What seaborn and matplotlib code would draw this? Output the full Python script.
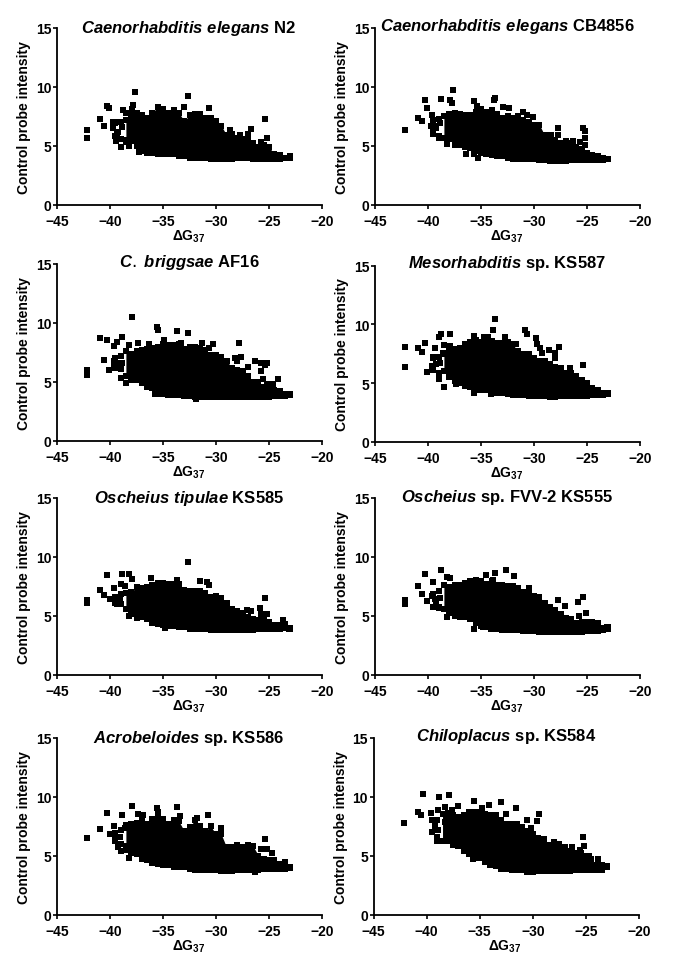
import matplotlib
matplotlib.use('Agg')
import matplotlib.pyplot as plt
import seaborn as sns

core_x = [-39.5, -39, -38.5, -38, -37.5, -37, -36.5, -36, -35.5, -35, -34.5, -34,
          -33.5, -33, -32.5, -32, -31.5, -31, -30.5, -30, -29.5, -29, -28.5, -28,
          -27.5, -27, -26.5, -26, -25.5, -25, -24.5, -24, -23.5, -23]

# Caenorhabditis elegans N2
n2_low = [5.8, 5.6, 5.5, 5.4, 5.0, 4.6, 4.5, 4.4, 4.3, 4.3, 4.3, 4.3, 4.1, 4.1, 4.0, 4.0, 4.0,
          3.95, 3.9, 3.9, 3.85, 3.85, 3.9, 3.95, 3.95, 3.95, 3.9, 3.9, 3.85, 3.9, 3.9, 3.9, 3.95, 4.0]
n2_high = [6.9, 7.0, 7.2, 7.6, 7.8, 7.6, 7.4, 7.8, 8.3, 8.1, 7.8, 8.0, 7.8, 7.1, 7.6, 7.7, 7.7,
           7.4, 7.4, 7.1, 6.7, 5.9, 6.0, 5.7, 5.6, 5.6, 5.2, 4.9, 5.1, 4.9, 4.3, 4.2, 4.0, 4.1]
n2_x = [-42.2, -42.2, -40.9, -40.6, -40.3, -40.1, -38.8, -38.5, -37.6, -37.8, -37.9, -32.6, -33,
        -30.65, -25.4, -25.2, -26.7, -28.7, -39.4, -39, -38.5, -38.2, -39.7, -39.4, -39.7, -37.3,
        -36.5, -27, -27.7, -25.8, -39.2, -38.9, -39.3]
n2_y = [6.3, 5.7, 7.25, 6.65, 8.4, 8.25, 8.0, 7.8, 9.55, 8.5, 8.1, 9.2, 8.3,
        8.2, 7.3, 5.7, 6.45, 6.3, 5.4, 4.9, 5.3, 5.0, 7.0, 7.05, 6.5, 4.5,
        4.35, 6.0, 5.9, 5.3, 6.2, 6.6, 6.0]

# Caenorhabditis elegans CB4856
cb_low = [6.0, 5.8, 5.7, 5.6, 5.1, 5.1, 4.9, 4.8, 4.6, 4.4, 4.3, 4.2, 4.1, 4.1, 4.0, 3.9, 3.9,
          3.9, 3.9, 3.9, 3.8, 3.8, 3.7, 3.7, 3.7, 3.7, 3.8, 3.8, 3.8, 3.8, 3.8, 3.8, 3.8, 3.85]
cb_high = [7.2, 7.3, 7.5, 7.7, 7.8, 7.7, 7.6, 7.6, 7.9, 8.1, 7.9, 8.0, 7.7, 7.4, 7.5, 7.4, 7.5,
           7.2, 7.0, 6.8, 6.8, 5.9, 5.5, 5.5, 5.2, 5.1, 5.2, 4.9, 4.7, 4.4, 4.2, 4.1, 4.0, 3.9]
cb_x = [-42.2, -40.9, -40.55, -40.3, -40.05, -38.8, -37.9, -37.75, -37.6, -38.25, -39, -36.4,
        -35.7, -35.25, -33.7, -33.8, -35.65, -35.4, -32.9, -32.35, -31, -30.65, -30.1, -27.75,
        -25.4, -25.15, -25.2, -25.15, -39.65, -39.75, -39.5, -27.7, -28.35, -26.95, -26.3, -25.7,
        -39.2, -38.9, -39.3]
cb_y = [6.35, 7.4, 7.1, 8.85, 8.25, 8.95, 8.85, 8.6, 9.75, 5.15, 5.65, 4.3,
        4.3, 4.0, 9.1, 8.85, 8.8, 8.4, 8.3, 8.25, 7.9, 7.65, 7.45, 6.55,
        6.5, 6.25, 5.7, 5.05, 7.65, 6.7, 6.15, 5.9, 5.9, 5.4, 5.4, 5.3,
        6.5, 6.9, 6.7]

# C. briggsae AF16
af_low = [6.2, 6.1, 5.5, 5.2, 5.2, 4.9, 4.6, 4.5, 4.0, 4.0, 3.9, 3.9, 3.9, 3.8, 3.8, 3.7, 3.75,
          3.75, 3.75, 3.75, 3.75, 3.75, 3.7, 3.7, 3.7, 3.75, 3.75, 3.75, 3.75, 3.75, 3.8, 3.8, 3.8, 3.9]
af_high = [7.0, 7.2, 7.6, 7.4, 7.6, 7.7, 7.8, 7.9, 8.0, 8.2, 8.1, 8.1, 8.2, 7.8, 8.0, 8.0, 7.9,
           7.7, 7.3, 7.3, 7.1, 6.8, 6.2, 6.0, 5.9, 5.5, 5.0, 5.0, 4.6, 4.5, 4.3, 4.2, 4.0, 3.95]
af_x = [-42.2, -42.15, -40.9, -40.3, -40.6, -40.05, -39.6, -39.35, -38.85, -38.25, -37.95, -37.35,
        -39, -38.5, -36.3, -35.6, -35.5, -34.9, -33.7, -32.6, -33.3, -31.3, -30.25, -30.65, -27.8,
        -28.2, -27.65, -28.05, -26.95, -26.35, -25.8, -25.2, -25.4, -25.8, -25.6, -24.15, -24.65,
        -25.2, -39.65, -39.65, -35.75, -31.9, -39.2, -38.9]
af_y = [5.6, 6.0, 8.7, 8.55, 6.9, 6.05, 8.05, 8.4, 8.8, 8.15, 10.5, 8.3,
        5.3, 4.9, 8.25, 9.7, 9.4, 8.55, 9.35, 9.15, 8.3, 8.3, 8.2, 7.85, 8.3,
        7.05, 7.15, 6.8, 6.25, 6.75, 6.65, 6.65, 6.45, 5.9, 5.25, 5.25, 4.8,
        4.8, 6.8, 6.4, 4.0, 3.55, 6.6, 6.6]

# Mesorhabditis sp. KS587
ks587_low = [6.1, 5.9, 6.0, 5.5, 5.2, 5.0, 4.8, 4.7, 4.4, 4.4, 4.4, 4.2, 4.2, 4.15, 4.1, 4.0, 4.0,
             4.0, 3.95, 3.95, 3.9, 3.9, 3.85, 3.85, 3.9, 3.95, 3.95, 3.9, 3.9, 3.9, 4.0, 4.0, 4.0, 4.1]
ks587_high = [7.1, 7.2, 7.5, 7.7, 7.9, 8.0, 8.3, 8.5, 8.7, 8.5, 8.7, 8.6, 8.4, 8.4, 8.5, 8.3, 7.7,
              7.5, 7.5, 7.1, 6.9, 6.9, 6.6, 6.4, 6.3, 5.9, 5.9, 5.6, 5.3, 5.0, 4.6, 4.4, 4.2, 4.2]
ks587_x = [-42.2, -42.2, -40.9, -40.55, -40.3, -40.05, -39.35, -39, -38.8, -37.9, -38.5, -39,
           -38.45, -37.4, -33.65, -33.9, -35.65, -34.75, -34.3, -32.7, -30.85, -30.65, -29.85,
           -29.7, -29.45, -29.2, -28.6, -27.6, -28, -28, -26.6, -25.4, -23.1, -35.65, -34.1,
           -39.65, -39.5, -38.55, -37.9, -31.7, -39.2, -38.9]
ks587_y = [8.1, 6.4, 8.0, 7.65, 8.4, 5.95, 8.0, 8.95, 9.15, 9.15, 8.25, 5.35,
           4.65, 4.9, 10.45, 9.5, 9.05, 8.95, 8.95, 8.95, 9.5, 9.15, 8.8,
           8.35, 8.0, 7.55, 7.8, 8.1, 7.55, 7.15, 6.25, 6.55, 4.2, 4.2, 4.1,
           6.5, 7.2, 7.6, 8.15, 8.35, 6.6, 6.7]

# Oscheius tipulae KS585
ks585_low = [6.1, 6.0, 5.6, 5.1, 5.0, 4.9, 4.7, 4.4, 4.3, 4.2, 4.1, 4.1, 4.0, 4.0, 3.9, 3.9, 3.85,
             3.85, 3.8, 3.75, 3.75, 3.75, 3.75, 3.8, 3.8, 3.8, 3.8, 3.85, 3.85, 3.85, 3.9, 3.9, 3.95, 3.9]
ks585_high = [6.6, 6.8, 6.9, 7.0, 7.4, 7.3, 7.4, 7.6, 7.8, 7.8, 7.7, 7.7, 7.7, 7.2, 7.1, 7.1, 7.1,
              6.9, 6.6, 6.7, 6.5, 6.1, 5.6, 5.4, 5.2, 4.9, 4.7, 4.6, 4.6, 4.5, 4.2, 4.2, 4.3, 3.95]
ks585_x = [-42.2, -42.15, -40.9, -40.55, -40.3, -39.6, -38.85, -38.25, -37.95, -39, -38.55, -36.15,
           -32.6, -33.7, -31.55, -30.85, -30.65, -25.4, -25.85, -27.1, -26.7, -25.8, -25.2, -23.65,
           -38.25, -37.45, -23.1, -34.8, -40, -39.5, -39.35, -39.1]
ks585_y = [6.05, 6.3, 7.2, 6.75, 8.4, 7.35, 8.5, 8.5, 8.1, 7.7, 7.55, 8.2,
           9.5, 8.0, 7.9, 7.85, 7.6, 6.5, 5.65, 5.5, 5.4, 5.1, 5.1, 4.6,
           5.0, 4.8, 3.85, 3.95, 6.45, 6.45, 5.95, 6.3]

# Oscheius sp. FVV-2 KS555
ks555_low = [5.7, 5.7, 5.6, 5.2, 5.0, 4.9, 4.9, 4.7, 4.4, 4.1, 4.0, 4.0, 3.9, 3.8, 3.8, 3.75, 3.75,
             3.7, 3.7, 3.7, 3.65, 3.65, 3.65, 3.65, 3.6, 3.6, 3.6, 3.65, 3.65, 3.7, 3.7, 3.7, 3.75, 3.9]
ks555_high = [6.8, 7.1, 7.6, 7.4, 7.6, 7.6, 7.8, 7.9, 8.0, 7.9, 7.7, 7.9, 7.6, 7.6, 7.5, 7.5, 7.3,
              7.0, 7.2, 6.7, 6.6, 6.1, 5.7, 5.5, 5.1, 4.8, 4.7, 4.4, 4.5, 4.5, 4.5, 4.4, 3.95, 4.0]
ks555_x = [-42.2, -42.2, -40.9, -40.55, -40.3, -40.05, -39.55, -39.65, -38.8, -38.25, -37.9, -39.4,
           -39, -38.25, -35.7, -34.55, -33.65, -33.85, -32.6, -31.9, -30.45, -27.7, -27.1, -25.85,
           -25.4, -25.75, -25.05, -23.1, -34.05, -34.8, -39.2, -38.9, -39.3]
ks555_y = [6.0, 6.35, 7.5, 6.85, 8.5, 6.2, 7.85, 6.7, 8.9, 8.25, 8.2, 5.7,
           5.65, 4.9, 3.9, 8.4, 8.6, 8.0, 8.85, 8.35, 7.3, 6.35, 5.8, 6.15,
           6.55, 4.95, 5.2, 4.0, 3.9, 4.0, 6.2, 6.5, 6.4]

# Acrobeloides sp. KS586
ks586_low = [6.2, 6.0, 5.8, 5.2, 5.1, 4.7, 4.6, 4.4, 4.3, 4.2, 4.2, 4.0, 4.0, 4.0, 3.9, 3.8, 3.8,
             3.75, 3.75, 3.75, 3.7, 3.7, 3.7, 3.75, 3.75, 3.75, 3.75, 3.8, 3.85, 3.85, 3.9, 3.9, 3.9, 3.95]
ks586_high = [6.9, 7.2, 7.6, 7.7, 7.8, 8.0, 7.7, 8.1, 8.2, 8.1, 7.7, 8.0, 7.9, 7.1, 7.4, 8.0, 7.5,
              7.1, 7.5, 6.8, 6.8, 5.7, 5.7, 5.9, 5.7, 5.9, 5.8, 5.0, 4.7, 4.6, 4.6, 4.3, 4.5, 4.0]
ks586_x = [-42.2, -40.9, -40.3, -39.6, -38.85, -37.95, -37.35, -36.9, -35.6, -35.5, -33.7, -33.4,
           -30.75, -29.5, -25.4, -25.75, -25.2, -24.75, -38.25, -39, -39.2, -38.4, -23.1, -26.3,
           -40, -39.5, -38.55, -31.8, -39.1]
ks586_y = [6.5, 7.25, 8.65, 7.5, 8.4, 9.2, 8.5, 8.45, 9.05, 8.7, 9.15, 8.35,
           8.4, 7.3, 6.4, 5.55, 5.6, 5.25, 4.8, 5.35, 5.7, 5.45, 4.0, 3.6,
           6.85, 6.4, 7.3, 8.15, 6.6]

# Chiloplacus sp. KS584
ks584_low = [7.0, 6.6, 6.2, 6.2, 5.9, 5.8, 5.4, 5.1, 4.8, 4.8, 4.5, 4.2, 4.15, 3.9, 3.85, 3.8, 3.8,
             3.75, 3.65, 3.6, 3.7, 3.7, 3.7, 3.7, 3.7, 3.7, 3.7, 3.75, 3.75, 3.75, 3.75, 3.75, 3.75, 4.0]
ks584_high = [8.0, 8.0, 8.5, 8.6, 8.4, 8.3, 8.4, 8.7, 8.7, 8.7, 8.5, 8.4, 8.4, 8.0, 7.7, 7.7, 7.7,
              7.4, 7.1, 6.8, 6.5, 6.2, 5.9, 6.0, 6.0, 5.7, 5.4, 5.2, 5.2, 5.0, 4.7, 4.2, 4.2, 4.1]
ks584_x = [-42.15, -40.85, -40.5, -40.3, -38.8, -37.9, -39.55, -38.95, -39.05, -35.5, -34.15, -34.8,
           -33, -31.6, -32.5, -29.45, -29.6, -30.55, -30.15, -25.3, -25.15, -25.6, -23.9, -23.1,
           -35.6, -38.25, -37, -38.25, -37.6, -28.9, -28.05, -26.3, -24.75, -39.2, -38.9]
ks584_y = [7.8, 8.7, 8.4, 10.2, 9.95, 10.15, 8.6, 8.9, 6.25, 9.6, 9.25, 9.05,
           9.5, 9.0, 8.5, 8.5, 7.9, 8.0, 7.35, 6.6, 5.85, 5.5, 4.7, 4.15,
           4.7, 7.85, 9.2, 9.1, 8.9, 6.45, 6.15, 5.7, 5.0, 7.5, 7.2]

x_ticks = [-45, -40, -35, -30, -25, -20]
y_ticks = [0, 5, 10, 15]

sns.set_style('white')
plt.rcParams['font.family'] = ['Liberation Sans', 'DejaVu Sans']
plt.rcParams['mathtext.fontset'] = 'custom'
plt.rcParams['mathtext.it'] = 'Liberation Sans:italic:bold'
plt.rcParams['mathtext.bf'] = 'Liberation Sans:bold'

W, H = 685, 970
fig = plt.figure(figsize=(W / 100, H / 100), dpi=100)

# title, data, then pixel box of the axes (left, right, y of 0, y of 15) and title position
panels = [
    (r'$\mathit{Caenorhabditis\ elegans}$ N2', n2_low, n2_high, n2_x, n2_y, (57, 322, 205.7, 29), (189, 29)),
    (r'$\mathit{Caenorhabditis\ elegans}$ CB4856', cb_low, cb_high, cb_x, cb_y, (375, 640, 205.7, 29), (507.5, 27)),
    (r'$\mathit{C.}$ $\mathit{briggsae}$ AF16', af_low, af_high, af_x, af_y, (57, 322, 442, 265), (189, 263)),
    (r'$\mathit{Mesorhabditis}$ sp. KS587', ks587_low, ks587_high, ks587_x, ks587_y, (375, 640, 443, 266.5), (507, 264)),
    (r'$\mathit{Oscheius\ tipulae}$ KS585', ks585_low, ks585_high, ks585_x, ks585_y, (57, 322, 675.7, 498.5), (189, 499)),
    (r'$\mathit{Oscheius}$ sp. FVV-2 KS555', ks555_low, ks555_high, ks555_x, ks555_y, (375, 640, 675.7, 498.5), (507, 498)),
    (r'$\mathit{Acrobeloides}$ sp. KS586', ks586_low, ks586_high, ks586_x, ks586_y, (57, 322, 915.7, 738.5), (188.5, 739)),
    (r'$\mathit{Chiloplacus}$ sp. KS584', ks584_low, ks584_high, ks584_x, ks584_y, (373.5, 639, 915.7, 738.5), (506, 737)),
]

for title, low, high, pts_x, pts_y, box, title_pos in panels:
    left, right, y0, y15 = box
    ax = fig.add_axes([left / W, 1 - y0 / H, (right - left) / W, (y0 - y15) / H])

    # the middle of each cloud is solid black, so it is kept as its lower and upper edge
    # the two leftmost columns stay open, the squares there do not touch in the reference
    ax.fill_between(core_x[2:], low[2:], high[2:], color='black', linewidth=0)
    sns.scatterplot(x=core_x, y=low, marker='s', s=17, color='black', linewidth=0, ax=ax)
    sns.scatterplot(x=core_x, y=high, marker='s', s=17, color='black', linewidth=0, ax=ax)
    sns.scatterplot(x=pts_x, y=pts_y, marker='s', s=17, color='black', linewidth=0, ax=ax)

    ax.set_xlim(-45, -20)
    ax.set_ylim(0, 15)
    ax.set_xticks(x_ticks)
    ax.set_yticks(y_ticks)
    ax.tick_params(length=3, width=1.2, labelsize=10, color='black', labelcolor='black',
                   bottom=True, left=True)
    ax.tick_params(axis='x', pad=3.5)
    ax.tick_params(axis='y', pad=1)
    for label in ax.get_xticklabels() + ax.get_yticklabels():
        label.set_fontweight('bold')
    sns.despine(ax=ax)
    for side in ['left', 'bottom']:
        ax.spines[side].set_linewidth(1.3)
        ax.spines[side].set_color('black')

    ax.set_xlabel(r'ΔG$_{\mathbf{37}}$', fontsize=10, fontweight='bold', va='center', color='black')
    ax.xaxis.set_label_coords(0.495, -0.175)
    ax.set_ylabel('Control probe intensity', fontsize=10, fontweight='bold', va='center', color='black')
    ax.yaxis.set_label_coords(-0.123, 0.5)

    fig.text(title_pos[0] / W, 1 - title_pos[1] / H, title, fontsize=12, fontweight='bold',
             ha='center', va='center', color='black')

fig.savefig('out.png', dpi=100)
plt.close(fig)
